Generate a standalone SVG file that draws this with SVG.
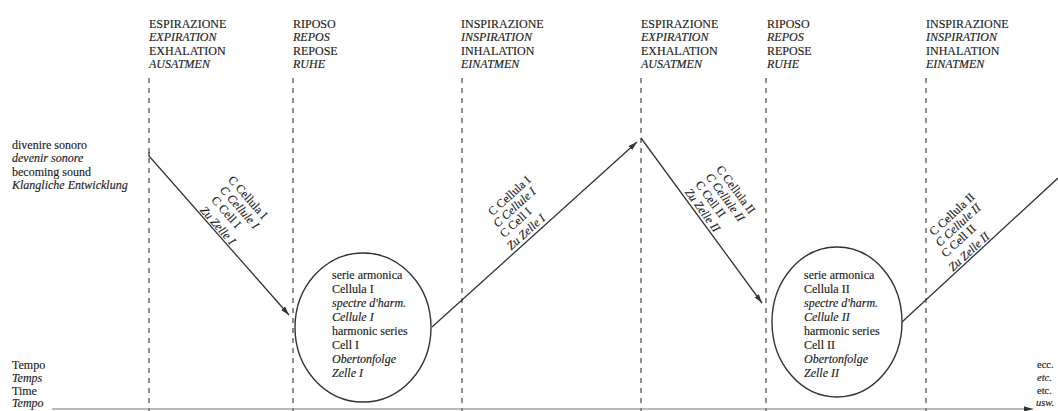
<svg xmlns="http://www.w3.org/2000/svg" width="1058" height="411" viewBox="0 0 1058 411">
<style>
text{font-family:"Liberation Serif","DejaVu Serif",serif;font-size:12px;fill:#1c1c1c;stroke:#1c1c1c;stroke-width:0.15}
.i{font-style:italic}
.sm{font-size:10.5px}
.guide{stroke:#444;stroke-width:1.2;stroke-dasharray:5 5;fill:none}
.conn{stroke:#333;stroke-width:1.3;fill:none}
.axis{stroke:#777;stroke-width:1.2;fill:none}
.cell{stroke:#333;stroke-width:1.4;fill:#fff}
</style>
<defs>
<marker id="ah" viewBox="0 0 10 6" refX="10" refY="3" markerWidth="9" markerHeight="6" orient="auto" markerUnits="userSpaceOnUse"><path d="M0,0 L10,3 L0,6 z" fill="#333"/></marker>
</defs>
<rect width="1058" height="411" fill="#fff"/>
<g id="guides">
<line class="guide" x1="149" y1="78" x2="149" y2="411"/>
<line class="guide" x1="293" y1="78" x2="293" y2="411"/>
<line class="guide" x1="462" y1="78" x2="462" y2="411"/>
<line class="guide" x1="641" y1="78" x2="641" y2="411"/>
<line class="guide" x1="766" y1="78" x2="766" y2="411"/>
<line class="guide" x1="926" y1="78" x2="926" y2="411"/>
</g>
<g id="phase1"><text x="149" y="28">ESPIRAZIONE</text><text class="i" x="149" y="41">EXPIRATION</text><text x="149" y="55">EXHALATION</text><text class="i" x="149" y="68">AUSATMEN</text></g>
<g id="phase2"><text x="293" y="28">RIPOSO</text><text class="i" x="293" y="41">REPOS</text><text x="293" y="55">REPOSE</text><text class="i" x="293" y="68">RUHE</text></g>
<g id="phase3"><text x="461" y="28">INSPIRAZIONE</text><text class="i" x="461" y="41">INSPIRATION</text><text x="461" y="55">INHALATION</text><text class="i" x="461" y="68">EINATMEN</text></g>
<g id="phase4"><text x="641" y="28">ESPIRAZIONE</text><text class="i" x="641" y="41">EXPIRATION</text><text x="641" y="55">EXHALATION</text><text class="i" x="641" y="68">AUSATMEN</text></g>
<g id="phase5"><text x="767" y="28">RIPOSO</text><text class="i" x="767" y="41">REPOS</text><text x="767" y="55">REPOSE</text><text class="i" x="767" y="68">RUHE</text></g>
<g id="phase6"><text x="926" y="28">INSPIRAZIONE</text><text class="i" x="926" y="41">INSPIRATION</text><text x="926" y="55">INHALATION</text><text class="i" x="926" y="68">EINATMEN</text></g>
<g id="label-sound"><text x="12" y="149">divenire sonoro</text><text class="i" x="12" y="162">devenir sonore</text><text x="12" y="176">becoming sound</text><text class="i" x="12" y="189">Klangliche Entwicklung</text></g>
<g id="label-time"><text x="12" y="369">Tempo</text><text class="i" x="12" y="382">Temps</text><text x="12" y="395">Time</text><text class="i" x="12" y="407">Tempo</text></g>
<g id="label-etc"><text class="sm" x="1037" y="368">ecc.</text><text class="sm i" x="1037" y="381">etc.</text><text class="sm" x="1037" y="394">etc.</text><text class="sm i" x="1036" y="406">usw.</text></g>
<g id="connectors">
<line class="axis" x1="52" y1="409" x2="1033" y2="409" marker-end="url(#ah)"/>
<polyline class="conn" points="149,152 149,156 289,315" marker-end="url(#ah)"/>
<line class="conn" x1="432" y1="327" x2="637" y2="142" marker-end="url(#ah)"/>
<line class="conn" x1="641" y1="138" x2="762" y2="303" marker-end="url(#ah)"/>
<line class="conn" x1="902" y1="322" x2="1058" y2="178"/>
</g>
<g id="cell1">
<ellipse class="cell" cx="363" cy="327.5" rx="68" ry="74.5"/>
<text x="332" y="279">serie armonica</text><text x="332" y="293">Cellula I</text><text class="i" x="332" y="307">spectre d'harm.</text><text class="i" x="332" y="321">Cellule I</text><text x="332" y="335">harmonic series</text><text x="332" y="349">Cell I</text><text class="i" x="332" y="363">Obertonfolge</text><text class="i" x="332" y="377">Zelle I</text>
</g>
<g id="cell2">
<ellipse class="cell" cx="837" cy="322" rx="65" ry="75"/>
<text x="804" y="279">serie armonica</text><text x="804" y="293">Cellula II</text><text class="i" x="804" y="307">spectre d'harm.</text><text class="i" x="804" y="321">Cellule II</text><text x="804" y="335">harmonic series</text><text x="804" y="349">Cell II</text><text class="i" x="804" y="363">Obertonfolge</text><text class="i" x="804" y="377">Zelle II</text>
</g>
<g id="to-cell1" transform="translate(198,211.7) rotate(48.6)">
<text x="-4" y="-43">C Cellula I</text><text class="i" x="-2" y="-30">C Cellule I</text><text x="0" y="-17">C Cell I</text><text class="i" x="0" y="-2">Zu Zelle I</text>
</g>
<g id="from-cell1" transform="translate(514,253.5) rotate(-42.2)">
<text x="9" y="-42">C Cellula I</text><text class="i" x="5" y="-30">C Cellule I</text><text x="3" y="-18">C Cell I</text><text class="i" x="0" y="-4">Zu Zelle I</text>
</g>
<g id="to-cell2" transform="translate(682,194) rotate(53.7)">
<text x="0" y="-42">C Cellula II</text><text class="i" x="0" y="-29">C Cellule II</text><text x="0" y="-16">C Cell II</text><text class="i" x="0" y="-3">Zu Zelle II</text>
</g>
<g id="from-cell2" transform="translate(955,274) rotate(-42.7)">
<text x="10" y="-42">C Cellula II</text><text class="i" x="7" y="-30">C Cellule II</text><text x="4" y="-18">C Cell II</text><text class="i" x="0" y="-3">Zu Zelle II</text>
</g>
</svg>
